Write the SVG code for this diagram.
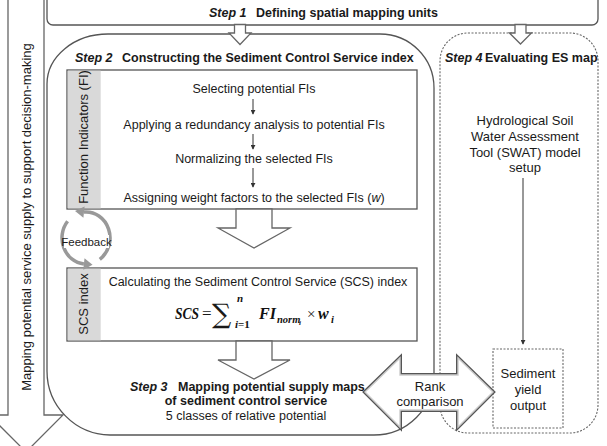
<svg xmlns="http://www.w3.org/2000/svg" width="607" height="446" viewBox="0 0 607 446">
<style>
text{font-family:"Liberation Sans",Arial,sans-serif;fill:#1a1a1a;font-size:12.5px}
.b{font-weight:bold}
.bi{font-weight:bold;font-style:italic}
.c{text-anchor:middle}
.box{fill:#fff;stroke:#555;stroke-width:1.3}
.blk{fill:#fff;stroke:#666;stroke-width:1.3}
.dot{fill:none;stroke:#666;stroke-width:1.1;stroke-dasharray:2 1.5}
.side{fill:#d9d9d9;stroke:none}
.thin{stroke:#333;stroke-width:1;fill:none}
.fb{fill:none;stroke:#999;stroke-width:3.5}
.fbh{fill:#999;stroke:none}
text.m{font-family:"Liberation Serif","DejaVu Serif",serif;font-weight:bold;font-style:italic;fill:#111}
text.big{font-size:16px}
text.sub{font-size:11px}
</style>
<defs>
<marker id="ah" viewBox="0 0 6 6" refX="5" refY="3" markerWidth="5" markerHeight="5" orient="auto">
<path d="M0,0 L6,3 L0,6 Z" fill="#333"/>
</marker>
</defs>
<rect width="607" height="446" fill="#fff"/>

<g id="decision-arrow">
<path class="blk" d="M8,-5 H44 V415 H63 L26,452 L-11,415 H8 Z"/>
<text class="c" transform="translate(31,217) rotate(-90)" style="font-size:13px">Mapping potential service supply to support decision-making</text>
</g>

<g id="step1">
<rect class="box" x="47" y="-10" width="551" height="35" rx="6"/>
<text x="209" y="17"><tspan class="bi">Step 1</tspan><tspan class="b" x="256">Defining spatial mapping units</tspan></text>
</g>

<g id="step2">
<path class="box" d="M108,34 H380 A54,54 0 0 1 434,88 V375 A60,60 0 0 1 374,435 H110 A64,64 0 0 1 47,371 V84 A61,50 0 0 1 108,34 Z"/>
<text x="75" y="62"><tspan class="bi">Step 2</tspan><tspan class="b" x="122">Constructing the Sediment Control Service index</tspan></text>
</g>

<g id="step4">
<rect class="dot" x="440" y="33" width="158" height="400" rx="28"/>
<text x="445" y="62"><tspan class="bi">Step 4</tspan><tspan class="b" x="485">Evaluating ES map</tspan></text>
<text class="c" x="525" y="125" style="font-size:13px">Hydrological Soil</text>
<text class="c" x="525" y="141" style="font-size:13px">Water Assessment</text>
<text class="c" x="525" y="157" style="font-size:13px">Tool (SWAT) model</text>
<text class="c" x="525" y="172" style="font-size:13px">setup</text>
</g>

<g id="fi-box">
<rect class="box" x="67" y="70" width="350" height="139"/>
<rect class="side" x="67.7" y="70.7" width="33" height="137.6"/>
<text class="c" transform="translate(88,137) rotate(-90)" style="font-size:13px">Function Indicators (FI)</text>
<text class="c" x="254" y="93">Selecting potential FIs</text>
<text class="c" x="254" y="129">Applying a redundancy analysis to potential FIs</text>
<text class="c" x="254" y="163">Normalizing the selected FIs</text>
<text class="c" x="254" y="202">Assigning weight factors to the selected FIs (<tspan font-style="italic">w</tspan>)</text>
</g>

<g id="scs-box">
<rect class="box" x="67" y="268" width="350" height="73"/>
<rect class="side" x="67.7" y="268.7" width="33" height="71.6"/>
<text class="c" transform="translate(88,304) rotate(-90)" style="font-size:13px">SCS index</text>
<text class="c" x="258" y="286">Calculating the Sediment Control Service (SCS) index</text>
<text class="m big" x="175" y="319" textLength="24" lengthAdjust="spacingAndGlyphs">SCS</text>
<text x="202" y="319" style="font-family:'Liberation Serif',serif;font-size:17px">=</text>
<text x="212" y="323" style="font-family:'DejaVu Serif',serif;font-size:27px">∑</text>
<text class="m sub" x="237" y="302">n</text>
<text class="m sub" x="235" y="328">i<tspan style="font-style:normal">=1</tspan></text>
<text class="m big" x="259" y="319">FI</text>
<text class="m" x="277" y="323" style="font-size:10.5px">norm</text>
<text class="m" x="299" y="325" style="font-size:7px">i</text>
<text x="307" y="319" style="font-family:'Liberation Serif',serif;font-size:15px">×</text>
<text class="m big" x="318" y="319">w</text>
<text class="m" x="331" y="323" style="font-size:10.5px">i</text>
</g>

<g id="step3">
<text x="130" y="391"><tspan class="bi">Step 3</tspan><tspan class="b" x="178">Mapping potential supply maps</tspan></text>
<text class="b c" x="246" y="405">of sediment control service</text>
<text class="c" x="246" y="420">5 classes of relative potential</text>
</g>

<g id="sediment-output">
<rect class="dot" x="493" y="349" width="70" height="79"/>
<text class="c" x="528" y="378" style="font-size:13px">Sediment</text>
<text class="c" x="528" y="394" style="font-size:13px">yield</text>
<text class="c" x="528" y="410" style="font-size:13px">output</text>
</g>

<g id="feedback">
<path class="fb" d="M99.8,259.3 A24,26 0 0 0 83.9,212.1"/>
<polygon class="fbh" points="75,211 84.6,206.5 83.4,217.7"/>
<path class="fb" d="M67.6,221.3 A24,26 0 0 0 83.9,263.9"/>
<polygon class="fbh" points="92.5,264.8 83.3,269.8 84.5,258.2"/>
<rect x="64" y="235" width="45" height="13" fill="#fff"/>
<text class="c" x="86.5" y="246" style="font-size:11.5px">Feedback</text>
</g>

<g id="connectors">
<path class="blk" d="M234.5,24.5 H245.5 V33 H251 L240,44.5 L229,33 H234.5 Z"/>
<path class="blk" d="M515,24.5 H526 V33 H531.5 L520.5,44 L509.5,33 H515 Z"/>
<line class="thin" x1="253" y1="99" x2="253" y2="114" marker-end="url(#ah)"/>
<line class="thin" x1="253" y1="134" x2="253" y2="149" marker-end="url(#ah)"/>
<line class="thin" x1="253" y1="168" x2="253" y2="187" marker-end="url(#ah)"/>
<path class="blk" d="M236,209 H272 V228 H290 L254,248 L218,228 H236 Z"/>
<path class="blk" d="M236,341 H272 V360 H290 L254,379 L218,360 H236 Z"/>
<line class="thin" x1="523" y1="178" x2="523" y2="344" marker-end="url(#ah)"/>
<g id="rank-comparison">
<polygon points="365,392 400,358 400,375 458,375 458,358 493,392 458,427 458,410 400,410 400,427" fill="#fff" stroke="#555" stroke-width="4" stroke-linejoin="miter"/>
<polygon points="365,392 400,358 400,375 458,375 458,358 493,392 458,427 458,410 400,410 400,427" fill="#fff" stroke="#ccc" stroke-width="1.4"/>
<text class="c" x="430" y="391" style="font-size:13px">Rank</text>
<text class="c" x="430" y="406" style="font-size:13px">comparison</text>
</g>
</g>
</svg>
